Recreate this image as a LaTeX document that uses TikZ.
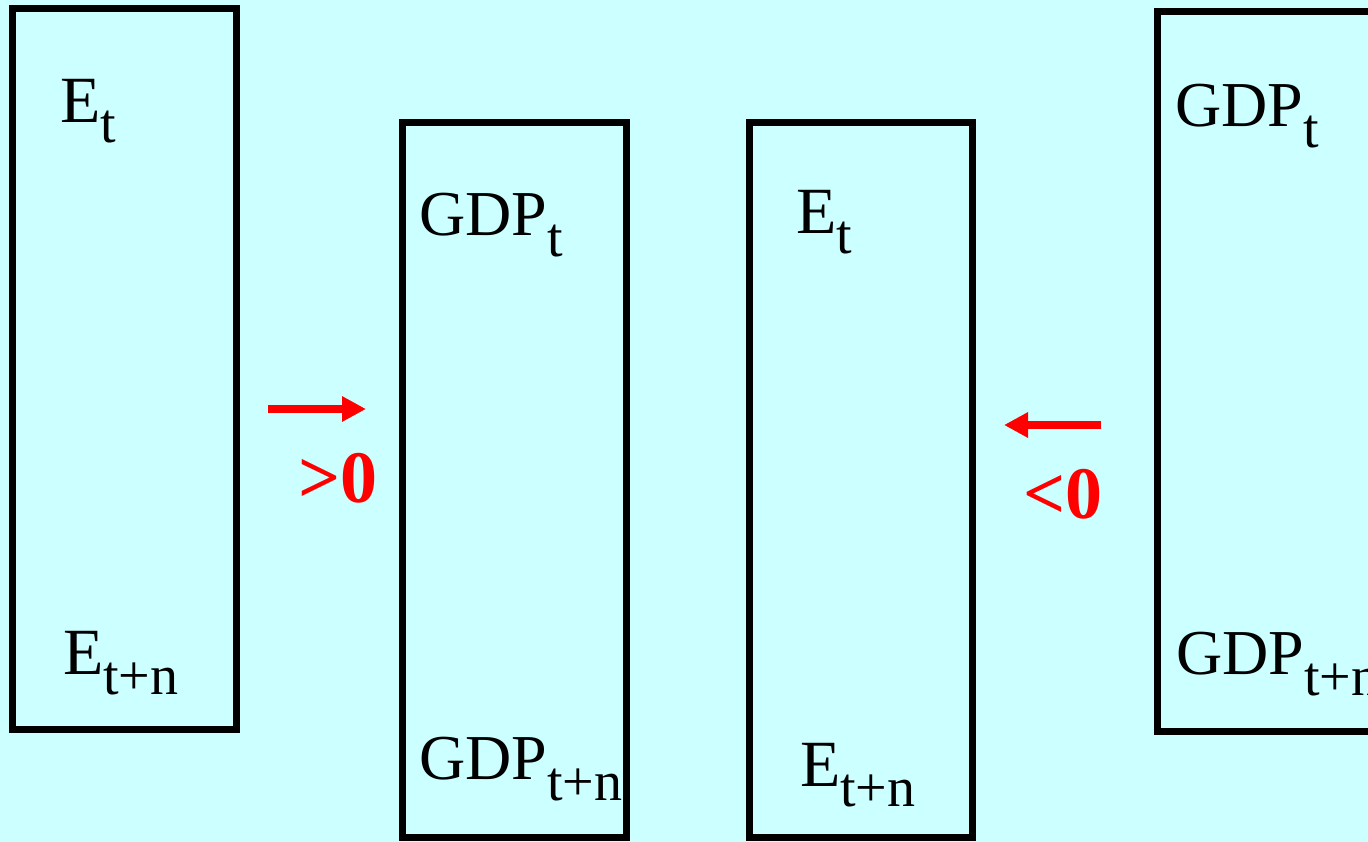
\documentclass[tikz,border=0pt]{standalone}
\usepackage{fontspec}
\setmainfont{Liberation Serif}
\usetikzlibrary{arrows.meta}
\definecolor{bgcyan}{HTML}{CCFFFF}
\newcommand{\Elbl}[1]{{\fontsize{66}{66}\selectfont E}\raisebox{-20pt}{\fontsize{56}{56}\selectfont #1}}
\newcommand{\Glbl}[1]{{\fontsize{64}{64}\selectfont GDP}\raisebox{-21pt}{\fontsize{56}{56}\selectfont #1}}
\tikzset{
  panel/.style={draw=black, line width=7pt},
  lbl/.style={anchor=base west, inner sep=0pt, outer sep=0pt},
  redarrow/.style={draw=red, line width=8pt, -{Triangle[length=24pt,width=24pt]}},
  sign/.style={anchor=base west, inner sep=0pt, text=red, font=\fontsize{74}{74}\selectfont\bfseries},
}
\begin{document}
\begin{tikzpicture}[x=1pt,y=-1pt]
\useasboundingbox (0,0) rectangle (1368,842);
\fill[bgcyan] (0,0) rectangle (1368,842);
\clip (0,0) rectangle (1368,842);
% panels
\draw[panel] (12,9) rectangle (236,729);
\draw[panel] (402,123) rectangle (626,837);
\draw[panel] (749,123) rectangle (972,837);
\draw[panel] (1157,12) rectangle (1400,731);
% labels
\node[lbl] (e1t) at (60,123) {\Elbl{t}};
\node[lbl] (e1n) at (63,674) {\Elbl{t+n}};
\node[lbl] (g2t) at (419,236) {\Glbl{t}};
\node[lbl] (g2n) at (419,779) {\Glbl{t+n}};
\node[lbl] (e3t) at (796,234) {\Elbl{t}};
\node[lbl] (e3n) at (800,786) {\Elbl{t+n}};
\node[lbl] (g4t) at (1175,127) {\Glbl{t}};
\node[lbl] (g4n) at (1176,674) {\Glbl{t+n}};
% arrows
\coordinate (a1s) at (268,409);
\coordinate (a1e) at (366,409);
\draw[redarrow] (a1s) -- (a1e);
\node[sign] (gt) at (298,502) {>0};
\coordinate (a2s) at (1101,425);
\coordinate (a2e) at (1004,425);
\draw[redarrow] (a2s) -- (a2e);
\node[sign] (lt) at (1023,518) {<0};
\end{tikzpicture}
\end{document}
